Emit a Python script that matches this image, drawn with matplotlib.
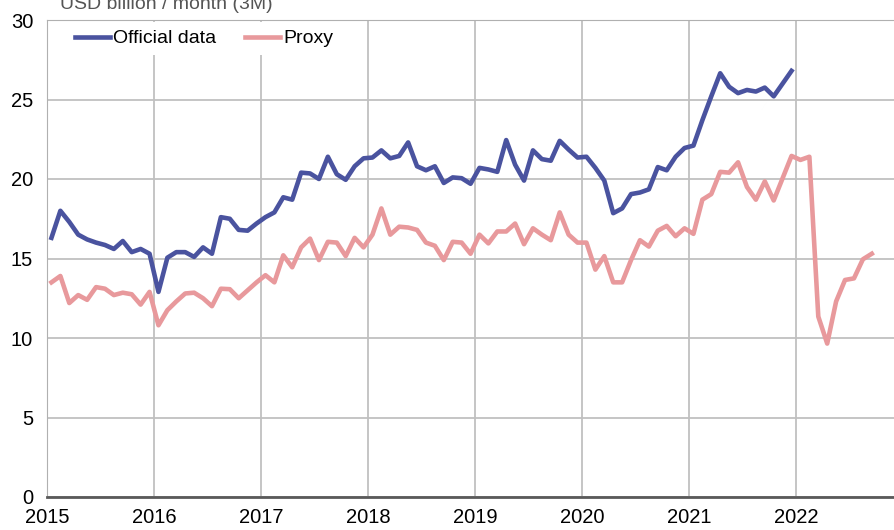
import numpy as np
import matplotlib
matplotlib.use("Agg")
import matplotlib.pyplot as plt

plt.rcParams['font.family'] = ['Liberation Sans', 'DejaVu Sans']

# monthly values, USD billion, starting Jan 2015
official = [16.3, 18.0, 17.3, 16.5, 16.2, 16.0, 15.85, 15.6, 16.1, 15.4, 15.6, 15.3,
            12.9, 15.05, 15.4, 15.4, 15.1, 15.7, 15.3, 17.6, 17.5, 16.8, 16.75, 17.2,
            17.6, 17.9, 18.85, 18.7, 20.4, 20.35, 20.0, 21.4, 20.3, 19.95, 20.8, 21.3,
            21.35, 21.8, 21.3, 21.45, 22.3, 20.8, 20.55, 20.8, 19.75, 20.1, 20.05, 19.7,
            20.7, 20.6, 20.45, 22.45, 20.9, 19.9, 21.8, 21.25, 21.15, 22.4, 21.85, 21.35,
            21.4, 20.7, 19.9, 17.85, 18.15, 19.05, 19.15, 19.35, 20.75, 20.55, 21.4, 21.95,
            22.1, 23.7, 25.2, 26.65, 25.8, 25.4, 25.6, 25.5, 25.75, 25.2, 26.0, 26.8]

proxy = [13.5, 13.9, 12.2, 12.7, 12.4, 13.2, 13.1, 12.7, 12.85, 12.75, 12.1, 12.9,
         10.8, 11.75, 12.3, 12.8, 12.85, 12.5, 12.0, 13.1, 13.07, 12.5, 13.0, 13.5,
         13.95, 13.5, 15.2, 14.45, 15.7, 16.25, 14.9, 16.05, 16.0, 15.15, 16.3, 15.7,
         16.5, 18.15, 16.5, 17.0, 16.95, 16.8, 16.0, 15.8, 14.9, 16.05, 16.0, 15.3,
         16.5, 15.95, 16.7, 16.7, 17.2, 15.9, 16.9, 16.5, 16.15, 17.9, 16.5, 16.0,
         16.0, 14.3, 15.15, 13.5, 13.5, 14.9, 16.15, 15.75, 16.75, 17.05, 16.4, 16.9,
         16.55, 18.7, 19.05, 20.45, 20.4, 21.05, 19.5, 18.7, 19.85, 18.65, 20.05, 21.45,
         21.2, 21.4, 11.35, 9.65, 12.3, 13.65, 13.75, 14.95, 15.3]

years = [2015, 2016, 2017, 2018, 2019, 2020, 2021, 2022]
unit_label = "USD billion / month (3M)"

# mid-month positions in fractional years
x_off = 2015 + (np.arange(len(official)) + 0.5) / 12
x_prx = 2015 + (np.arange(len(proxy)) + 0.5) / 12

fig = plt.figure(figsize=(8.94, 5.30), dpi=100)
ax = fig.add_axes([47/894, 1 - 497/530, 1 - 47/894, (497 - 20)/530])

ax.plot(x_off, official, color='#4a539f', linewidth=3.3, label='Official data',
        solid_joinstyle='round', zorder=3)
ax.plot(x_prx, proxy, color='#e8999c', linewidth=3.3, label='Proxy',
        solid_joinstyle='round', zorder=3)

ax.set_xlim(2015, 2015 + 847/107)
ax.set_ylim(0, 30)
ax.set_xticks(years)
ax.set_xticklabels([str(y) for y in years])
ax.set_yticks(range(0, 31, 5))
ax.tick_params(axis='both', length=0, labelsize=14.5, colors='black')
ax.tick_params(axis='y', pad=10)
ax.tick_params(axis='x', pad=8)
ax.grid(True, color='#c0c0c0', linewidth=1.3)
ax.set_axisbelow(True)

ax.spines['right'].set_visible(False)
ax.spines['top'].set_color('#b0b0b0')
ax.spines['left'].set_color('#b0b0b0')
ax.spines['bottom'].set_color('#5a5a5a')
ax.spines['bottom'].set_linewidth(2)

leg = ax.legend(loc='upper left', bbox_to_anchor=(20/847, 1 - 2/477), ncol=2, fontsize=14,
                frameon=True, handlelength=1.8, handletextpad=0.15, columnspacing=1.5,
                borderaxespad=0, borderpad=0.4)
leg.get_frame().set_facecolor('white')
leg.get_frame().set_edgecolor('none')
leg.get_frame().set_alpha(1)

fig.text(60/894, 1 - 9/530, unit_label, fontsize=14, color='#555555', va='baseline')

fig.savefig('out.png', dpi=100)
